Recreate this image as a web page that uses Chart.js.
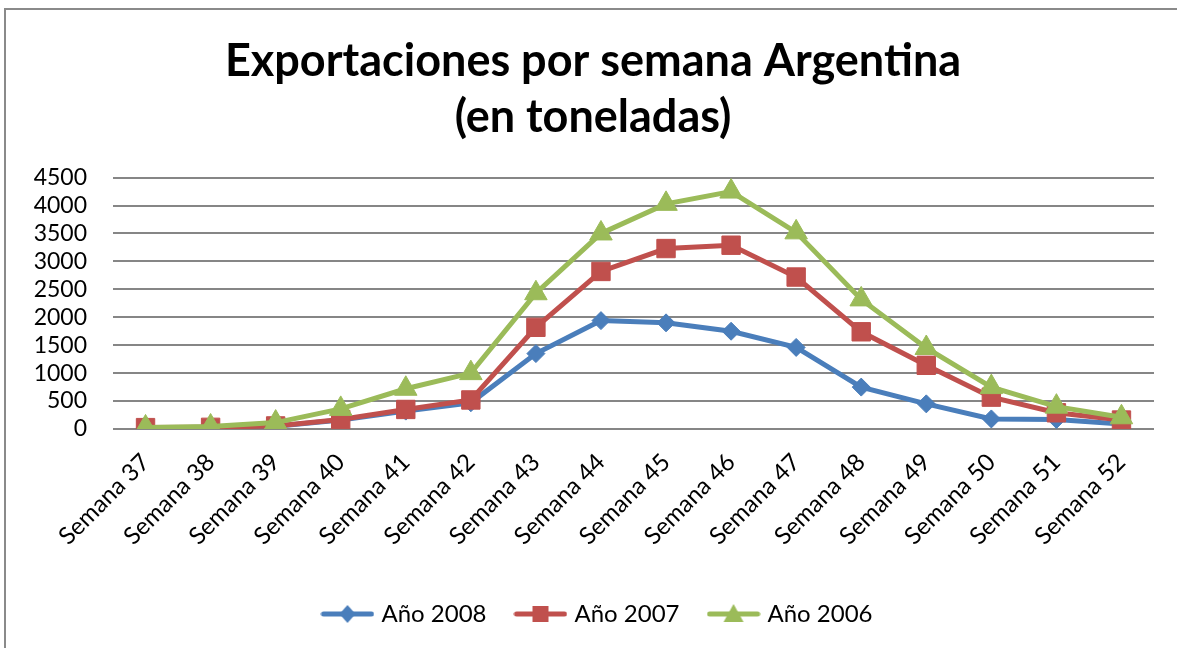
<!DOCTYPE html>
<html>
<head>
<meta charset="utf-8">
<script src="https://cdn.jsdelivr.net/npm/chart.js@4.4.1/dist/chart.umd.min.js"></script>
<style>
  html, body { margin: 0; padding: 0; background: #fff; }
  #wrap { width: 1177px; height: 648px; }
</style>
</head>
<body>
<div id="wrap"><canvas id="chart" width="1177" height="648"></canvas></div>
<script>
const semanas = ['Semana 37', 'Semana 38', 'Semana 39', 'Semana 40', 'Semana 41', 'Semana 42',
  'Semana 43', 'Semana 44', 'Semana 45', 'Semana 46', 'Semana 47', 'Semana 48',
  'Semana 49', 'Semana 50', 'Semana 51', 'Semana 52'];
const anio2008 = [20, 30, 50, 160, 320, 470, 1350, 1940, 1900, 1750, 1460, 750, 450, 180, 170, 90];
const anio2007 = [25, 30, 55, 170, 350, 520, 1820, 2820, 3230, 3290, 2720, 1740, 1140, 570, 290, 160];
const anio2006 = [28, 45, 115, 360, 720, 1000, 2430, 3500, 4030, 4250, 3520, 2320, 1450, 750, 400, 210];
const seriesNames = ['Año 2008', 'Año 2007', 'Año 2006'];
const colors = ['#4a7ebb', '#c0504d', '#9bbb59'];
const markers = ['rectRot', 'rect', 'triangle'];
const markerSizes = [9, 13, 13];

const FONT = 'Lato, "Open Sans", sans-serif';

// small line + marker samples for the legend
function legendSample(color, marker) {
  const c = document.createElement('canvas');
  c.width = 54; c.height = 26;
  const g = c.getContext('2d');
  g.strokeStyle = color;
  g.lineWidth = 5;
  g.lineCap = 'round';
  g.beginPath(); g.moveTo(3, 13); g.lineTo(51, 13); g.stroke();
  g.fillStyle = color;
  g.beginPath();
  if (marker === 'rectRot') {
    g.moveTo(27, 4); g.lineTo(35, 13); g.lineTo(27, 22); g.lineTo(19, 13);
  } else if (marker === 'rect') {
    g.rect(19, 5, 16, 16);
  } else {
    g.moveTo(27, 3); g.lineTo(37, 21); g.lineTo(17, 21);
  }
  g.closePath(); g.fill();
  return c;
}

const frame = {
  id: 'frame',
  afterLayout(chart) {
    // title and legend sit centred on the whole frame, not on the padded area
    chart.titleBlock.left += 16;
    chart.titleBlock.right += 16;
    chart.legend.left += 22;
    chart.legend.right += 22;
  },
  beforeDraw(chart) {
    const ctx = chart.ctx;
    ctx.save();
    ctx.strokeStyle = '#8a8a8a';
    ctx.lineWidth = 2;
    ctx.strokeRect(5, 9, 1300, 800);
    ctx.restore();
  }
};

const values = [anio2008, anio2007, anio2006];
const datasets = values.map((v, i) => ({
  label: seriesNames[i],
  data: v,
  borderColor: colors[i],
  backgroundColor: colors[i],
  borderWidth: 5,
  pointStyle: markers[i],
  pointRadius: markerSizes[i],
  pointHoverRadius: markerSizes[i],
  pointBorderWidth: 1,
  tension: 0,
  order: 2 - i
}));

new Chart(document.getElementById('chart'), {
  type: 'line',
  data: { labels: semanas, datasets: datasets },
  options: {
    responsive: false,
    animation: false,
    layout: { padding: { left: 0, right: 23, top: 0, bottom: 12 } },
    plugins: {
      title: {
        display: true,
        text: ['Exportaciones por semana Argentina', '(en toneladas)'],
        color: '#000',
        font: { family: FONT, size: 45, weight: 'bold', lineHeight: 1.24 },
        padding: { top: 34, bottom: 32 }
      },
      legend: {
        position: 'bottom',
        labels: {
          color: '#000',
          font: { family: FONT, size: 24 },
          usePointStyle: true,
          pointStyleWidth: 44,
          padding: 32,
          generateLabels: (chart) => chart.data.datasets.map((ds, i) => ({
            text: ds.label,
            fillStyle: ds.borderColor,
            strokeStyle: ds.borderColor,
            lineWidth: 0,
            pointStyle: legendSample(ds.borderColor, markers[i]),
            datasetIndex: i,
            hidden: false
          }))
        }
      },
      tooltip: { enabled: false }
    },
    scales: {
      x: {
        offset: true,
        grid: { display: false },
        border: { display: false },
        ticks: {
          color: '#000',
          font: { family: FONT, size: 24 },
          minRotation: 45,
          maxRotation: 45,
          padding: 11
        },
        afterFit: (scale) => { scale.height = 141; }
      },
      y: {
        min: 0,
        max: 4500,
        grid: { color: '#868686', lineWidth: 2, drawTicks: false },
        border: { display: false },
        ticks: {
          stepSize: 500,
          autoSkip: false,
          color: '#000',
          font: { family: FONT, size: 23 },
          padding: 26,
          callback: (v) => String(v)
        },
        afterFit: (scale) => { scale.width = 113; }
      }
    }
  },
  plugins: [frame]
});
</script>
</body>
</html>
